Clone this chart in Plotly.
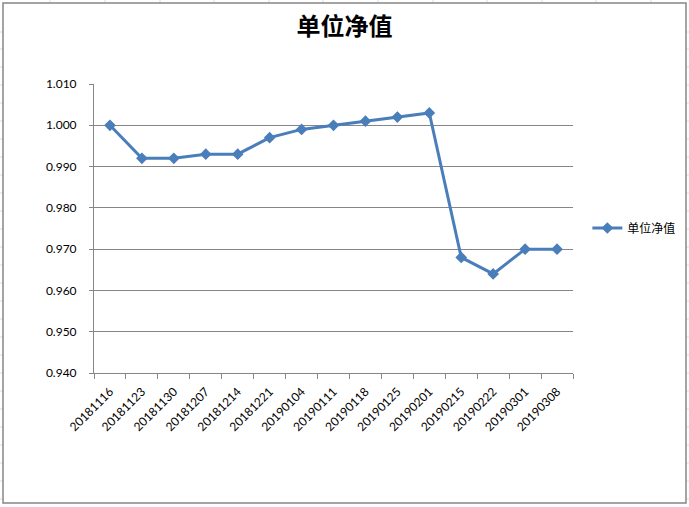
import plotly.graph_objects as go

dates = ["20181116", "20181123", "20181130", "20181207", "20181214", "20181221",
         "20190104", "20190111", "20190118", "20190125", "20190201", "20190215",
         "20190222", "20190301", "20190308"]
nav = [1.000, 0.992, 0.992, 0.993, 0.993, 0.997, 0.999, 1.000, 1.001, 1.002,
       1.003, 0.968, 0.964, 0.970, 0.970]
series_name = "单位净值"
title_text = "单位净值"

W, H = 689, 507
L, R, T, B = 94, 116, 84, 134

fig = go.Figure()
fig.add_trace(go.Scatter(
    x=dates, y=nav, name=series_name, mode="lines+markers",
    line=dict(color="#4A7EBB", width=3),
    marker=dict(symbol="diamond", size=9, color="#4A7EBB"),
))

PW, PH = W - L - R, H - T - B
def px(xv):
    return (xv - L) / PW
def py(yv):
    return (H - B - yv) / PH

shapes = []
grid = "#DADCDD"
for xv in [50, 105, 160, 214, 269, 323, 378, 433, 487, 542, 596, 651]:
    shapes.append(dict(type="line", xref="paper", yref="paper",
                       x0=px(xv), x1=px(xv), y0=py(0), y1=py(3),
                       line=dict(color=grid, width=1), layer="below"))
for yv in [32, 49, 67, 85, 103, 121, 139, 157, 175, 193, 211, 229, 247, 265,
           283, 301, 319, 337, 355, 373, 391, 409, 427, 445, 463, 481, 499]:
    for (xa, xb) in [(0, 3), (686, 689)]:
        shapes.append(dict(type="line", xref="paper", yref="paper",
                           x0=px(xa), x1=px(xb), y0=py(yv), y1=py(yv),
                           line=dict(color=grid, width=1), layer="below"))
shapes.append(dict(type="rect", xref="paper", yref="paper",
                   x0=px(3), x1=px(686), y0=py(503), y1=py(3),
                   line=dict(color="#868686", width=1.5), fillcolor="rgba(0,0,0,0)",
                   layer="below"))

fig.update_layout(
    width=W, height=H,
    margin=dict(l=L, r=R, t=T, b=B, autoexpand=False),
    paper_bgcolor="white", plot_bgcolor="white",
    font=dict(family="Lato, 'Noto Sans CJK SC', sans-serif", size=12, color="#000000"),
    title=dict(text="<b>" + title_text + "</b>", x=0.5, xref="container", xanchor="center",
               y=1 - 27 / H, yref="container", yanchor="middle",
               font=dict(family="'Noto Sans CJK SC', serif", size=24, color="#000000")),
    showlegend=True,
    legend=dict(x=1.03, y=py(228), xanchor="left", yanchor="middle",
                font=dict(family="'Noto Sans CJK SC', sans-serif", size=12),
                bgcolor="rgba(0,0,0,0)"),
    shapes=shapes,
)
fig.update_xaxes(type="category", range=[-0.5, len(dates) - 0.5], autorange=False,
                 showgrid=False, showline=True, linecolor="#868686",
                 linewidth=1, ticks="outside", ticklen=5, tickcolor="#868686",
                 tickson="boundaries", tickangle=-45, mirror=False,
                 ticklabelstandoff=6, tickfont=dict(size=12))
fig.update_yaxes(range=[0.94, 1.01], dtick=0.01, tick0=0.94, tickformat=".3f",
                 showgrid=True, gridcolor="#868686", gridwidth=1,
                 showline=True, linecolor="#868686", linewidth=1,
                 ticks="outside", ticklen=4, tickcolor="#868686",
                 ticklabelstandoff=10,
                 zeroline=False, tickfont=dict(size=12))

fig.write_html("out.html", config={"displayModeBar": False},
               post_script="document.body.style.margin='0';document.body.style.overflow='hidden';")
